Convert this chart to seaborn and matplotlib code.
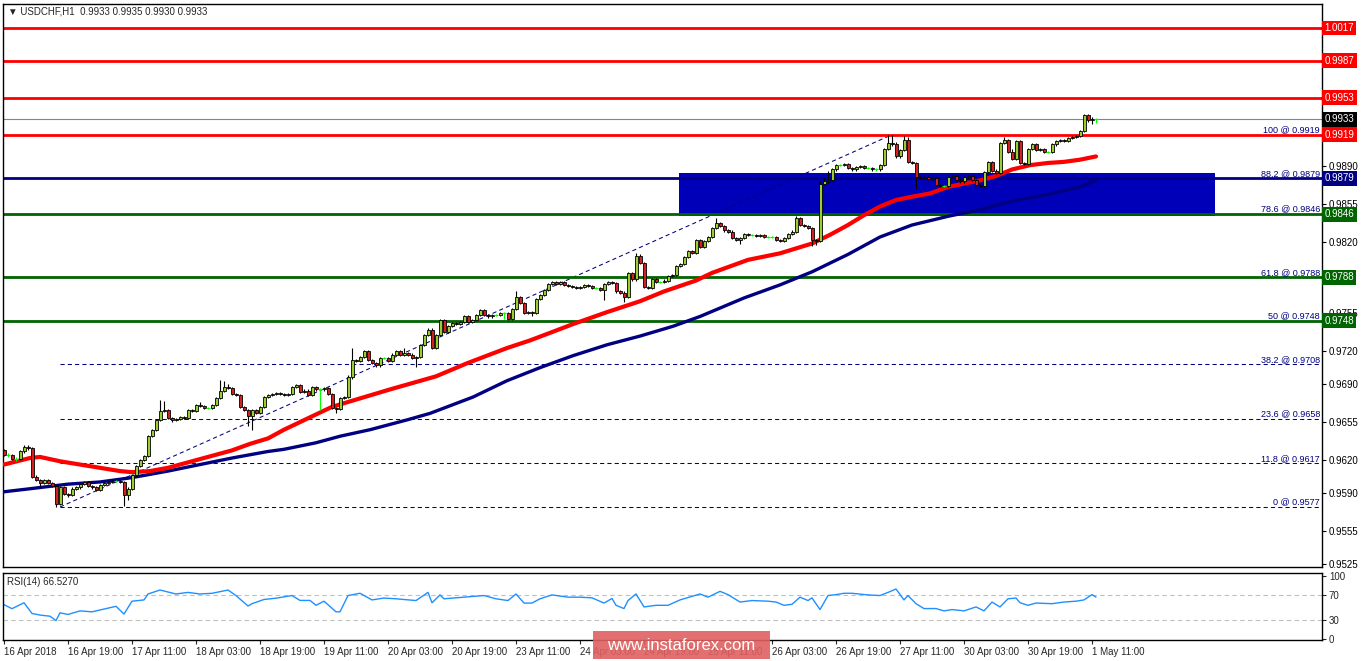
import matplotlib
matplotlib.use('Agg')
import matplotlib.pyplot as plt
from matplotlib.patches import Rectangle
import seaborn as sns
import numpy as np
import pandas as pd

# hourly closes, one row per 16 bars (one x-axis label step)
first_open = 0.9629
closes = [
    0.9625, 0.9625, 0.9621, 0.9621, 0.9628, 0.9632, 0.9631, 0.9605, 0.9602, 0.9599, 0.9602, 0.9599, 0.9596, 0.9580, 0.9595, 0.9589,
    0.9588, 0.9594, 0.9595, 0.9598, 0.9600, 0.9596, 0.9595, 0.9593, 0.9597, 0.9599, 0.9600, 0.9601, 0.9601, 0.9600, 0.9588, 0.9594,
    0.9606, 0.9615, 0.9620, 0.9624, 0.9642, 0.9648, 0.9657, 0.9665, 0.9666, 0.9659, 0.9657, 0.9658, 0.9660, 0.9659, 0.9666, 0.9665,
    0.9671, 0.9670, 0.9668, 0.9668, 0.9671, 0.9677, 0.9684, 0.9687, 0.9686, 0.9681, 0.9680, 0.9669, 0.9666, 0.9661, 0.9666, 0.9663,
    0.9669, 0.9678, 0.9680, 0.9681, 0.9682, 0.9681, 0.9680, 0.9681, 0.9687, 0.9689, 0.9683, 0.9684, 0.9680, 0.9687, 0.9685, 0.9685,
    0.9686, 0.9681, 0.9668, 0.9667, 0.9677, 0.9678, 0.9696, 0.9712, 0.9711, 0.9715, 0.9720, 0.9712, 0.9709, 0.9707, 0.9714, 0.9714,
    0.9711, 0.9717, 0.9720, 0.9717, 0.9718, 0.9717, 0.9714, 0.9715, 0.9726, 0.9735, 0.9740, 0.9723, 0.9735, 0.9749, 0.9738, 0.9743,
    0.9746, 0.9745, 0.9747, 0.9752, 0.9747, 0.9749, 0.9753, 0.9758, 0.9753, 0.9752, 0.9753, 0.9753, 0.9755, 0.9755, 0.9750, 0.9759,
    0.9770, 0.9764, 0.9755, 0.9756, 0.9755, 0.9768, 0.9772, 0.9776, 0.9782, 0.9784, 0.9782, 0.9784, 0.9781, 0.9780, 0.9779, 0.9778,
    0.9779, 0.9781, 0.9780, 0.9778, 0.9778, 0.9776, 0.9782, 0.9784, 0.9783, 0.9775, 0.9774, 0.9770, 0.9792, 0.9786, 0.9808, 0.9801,
    0.9779, 0.9778, 0.9786, 0.9784, 0.9784, 0.9785, 0.9789, 0.9790, 0.9798, 0.9800, 0.9807, 0.9812, 0.9810, 0.9822, 0.9816, 0.9821,
    0.9825, 0.9833, 0.9838, 0.9835, 0.9831, 0.9830, 0.9824, 0.9822, 0.9824, 0.9828, 0.9827, 0.9827, 0.9826, 0.9827, 0.9825, 0.9825,
    0.9825, 0.9822, 0.9821, 0.9824, 0.9828, 0.9830, 0.9842, 0.9836, 0.9835, 0.9833, 0.9822, 0.9821, 0.9874, 0.9876, 0.9877, 0.9887,
    0.9891, 0.9891, 0.9892, 0.9888, 0.9887, 0.9889, 0.9890, 0.9888, 0.9888, 0.9887, 0.9887, 0.9891, 0.9906, 0.9911, 0.9910, 0.9899,
    0.9905, 0.9914, 0.9894, 0.9893, 0.9880, 0.9879, 0.9880, 0.9878, 0.9879, 0.9873, 0.9872, 0.9872, 0.9880, 0.9881, 0.9877, 0.9876,
    0.9880, 0.9881, 0.9877, 0.9873, 0.9872, 0.9885, 0.9894, 0.9886, 0.9884, 0.9911, 0.9914, 0.9903, 0.9897, 0.9913, 0.9893, 0.9892,
    0.9906, 0.9910, 0.9905, 0.9906, 0.9903, 0.9903, 0.9910, 0.9913, 0.9914, 0.9913, 0.9916, 0.9917, 0.9918, 0.9922, 0.9937, 0.9932,
    0.9933, 0.9933,
]
# wick sizes in pips above max(open, close) and below min(open, close)
wick_up = [
    1, 2, 1, 2, 1, 2, 2, 1, 1, 1, 1, 1, 1, 1, 1, 1,
    1, 1, 1, 1, 1, 1, 1, 1, 1, 1, 1, 1, 1, 1, 1, 1,
    1, 1, 1, 1, 1, 1, 1, 10, 8, 1, 1, 1, 1, 1, 1, 1,
    1, 2, 1, 1, 1, 1, 10, 6, 3, 1, 1, 1, 1, 1, 1, 1,
    1, 1, 1, 1, 1, 1, 1, 1, 1, 1, 1, 1, 1, 1, 1, 1,
    1, 1, 1, 1, 1, 1, 2, 11, 1, 1, 1, 1, 1, 1, 1, 1,
    1, 1, 1, 1, 5, 1, 1, 1, 1, 1, 1, 1, 1, 1, 1, 1,
    1, 1, 1, 1, 1, 1, 1, 1, 1, 1, 1, 1, 1, 1, 1, 1,
    5, 1, 1, 1, 1, 1, 1, 1, 1, 1, 1, 1, 1, 1, 1, 1,
    1, 1, 1, 1, 1, 1, 1, 1, 1, 1, 1, 1, 1, 1, 2, 1,
    1, 1, 1, 1, 1, 1, 1, 1, 1, 1, 1, 1, 1, 1, 1, 1,
    1, 1, 4, 1, 1, 1, 1, 1, 1, 1, 1, 1, 1, 1, 1, 1,
    1, 1, 1, 1, 1, 1, 2, 1, 1, 1, 1, 1, 2, 3, 9, 1,
    1, 1, 1, 1, 1, 1, 1, 1, 1, 1, 1, 1, 1, 8, 8, 2,
    1, 4, 3, 1, 1, 1, 1, 1, 1, 1, 1, 1, 1, 1, 1, 1,
    1, 1, 1, 1, 1, 1, 1, 1, 1, 1, 3, 1, 3, 1, 1, 1,
    1, 1, 1, 1, 1, 1, 1, 1, 1, 1, 1, 1, 1, 1, 1, 1,
    2, 1,
]
wick_dn = [
    1, 2, 1, 2, 1, 1, 2, 1, 1, 4, 1, 1, 1, 3, 1, 1,
    2, 1, 1, 1, 1, 1, 1, 1, 1, 1, 1, 1, 1, 1, 10, 5,
    1, 1, 1, 1, 1, 1, 1, 1, 1, 1, 2, 1, 1, 1, 1, 1,
    1, 1, 1, 1, 1, 1, 1, 1, 1, 1, 1, 1, 1, 10, 13, 1,
    1, 1, 1, 1, 1, 1, 1, 1, 1, 1, 1, 1, 1, 1, 1, 19,
    1, 1, 1, 4, 1, 1, 1, 1, 1, 1, 1, 1, 1, 1, 1, 1,
    1, 1, 1, 1, 1, 1, 1, 8, 1, 1, 1, 1, 1, 1, 1, 1,
    1, 1, 1, 1, 1, 1, 1, 1, 1, 1, 1, 1, 1, 5, 1, 1,
    1, 1, 1, 1, 3, 1, 1, 1, 1, 1, 1, 1, 1, 1, 1, 1,
    1, 1, 1, 1, 1, 1, 9, 1, 1, 1, 1, 5, 1, 1, 1, 1,
    1, 1, 1, 1, 1, 1, 1, 1, 1, 1, 1, 1, 1, 1, 1, 1,
    1, 1, 1, 1, 1, 1, 1, 1, 3, 1, 1, 1, 1, 1, 1, 1,
    1, 1, 1, 1, 1, 1, 1, 1, 1, 1, 5, 3, 1, 1, 1, 1,
    1, 1, 1, 1, 1, 1, 1, 1, 1, 1, 1, 1, 1, 1, 1, 1,
    1, 1, 1, 1, 11, 1, 1, 1, 1, 1, 1, 1, 1, 1, 1, 1,
    1, 1, 1, 1, 1, 1, 1, 1, 1, 1, 1, 1, 1, 1, 1, 1,
    1, 1, 1, 1, 1, 1, 1, 1, 1, 1, 1, 1, 1, 1, 1, 1,
    3, 3,
]

# moving averages (bar index, price)
ma_fast_idx = [0, 6.5, 9, 14, 19, 24, 29, 32, 36.5, 41, 45, 49, 53, 57, 61.5, 66, 70, 74, 78, 82, 86.5, 96.5, 108,
               115.75, 125.75, 131.5, 137.25, 142.25, 150.75, 159, 165, 173, 177, 186, 194, 202, 206.5, 211, 215, 219,
               223, 227, 231.5, 236, 240, 244, 248, 252, 256.5, 261, 265, 269, 273]
ma_fast_val = [0.9616, 0.9622, 0.9623, 0.9619, 0.9616, 0.9613, 0.9610, 0.9609, 0.9610, 0.9613, 0.9617, 0.9621, 0.9625,
               0.9629, 0.9635, 0.9640, 0.9648, 0.9655, 0.9662, 0.9669, 0.9674, 0.9685, 0.9697, 0.9709, 0.9723, 0.9730,
               0.9738, 0.9745, 0.9756, 0.9766, 0.9775, 0.9785, 0.9792, 0.9804, 0.9810, 0.9819, 0.9827, 0.9836, 0.9845,
               0.9853, 0.9859, 0.9862, 0.9865, 0.9871, 0.9874, 0.9877, 0.9881, 0.9887, 0.9891, 0.9893, 0.9894, 0.9896,
               0.9899]
ma_slow_idx = [0, 7, 16, 24, 32, 36.5, 41, 45, 49, 53, 57, 61.5, 66, 70, 74, 78, 84, 91.5, 100.75, 106.5, 117.25,
               125.75, 134, 142.25, 150.75, 159, 167.25, 174, 185, 194, 202, 211, 219, 227, 236, 244, 252, 261, 269,
               273]
ma_slow_val = [0.9591, 0.9594, 0.9598, 0.9600, 0.9604, 0.9607, 0.9610, 0.9613, 0.9616, 0.9619, 0.9622, 0.9625, 0.9628,
               0.9630, 0.9633, 0.9636, 0.9642, 0.9648, 0.9657, 0.9663, 0.9678, 0.9693, 0.9705, 0.9716, 0.9726, 0.9734,
               0.9743, 0.9752, 0.9769, 0.9781, 0.9793, 0.9809, 0.9825, 0.9836, 0.9844, 0.9850, 0.9858, 0.9864, 0.9871,
               0.9877]

# RSI(14)
rsi_idx = [0, 2, 5, 7, 9, 11.5, 13, 14, 16, 19, 22, 28, 30, 32, 35, 36, 39, 43, 46, 49, 52, 56, 58, 61, 62, 65, 68,
           72, 74, 76.5, 78, 80, 83, 84, 86, 89, 92, 95, 98, 103, 106, 107, 109, 110, 115, 120, 123, 126,
           128, 130, 132, 134, 137, 141, 144, 147, 150, 152, 153, 155, 156, 158, 160, 163, 166, 169, 174, 176, 179,
           181, 184, 187, 191, 193, 195, 197, 199, 201, 202, 204, 206, 208, 210, 212, 216, 219, 221, 223, 225, 226,
           228, 230, 233, 235, 237, 240, 243, 245, 247, 249, 251, 253, 254, 256, 258, 262, 265, 268, 270, 272, 273]
rsi_val = [54.4, 48, 57.5, 40.4, 37.8, 36, 29, 41.4, 38.8, 44.5, 43, 51.8, 39.4, 60, 62, 71.5, 77.8, 71.5, 74, 71.5,
           72.6, 77.8, 69, 52.3, 56, 62.7, 64.8, 69, 61.2, 61.2, 53.4, 60, 43, 43, 69, 72.6, 62, 65,
           63.8, 61, 74, 57.5, 70, 63.8, 66.4, 69, 63.8, 61, 71.5, 57, 57, 63.8, 70, 66.4, 66.4, 65.3, 57, 64.3,
           53.4, 48.2, 61, 71.5, 50.8, 53.4, 53.4, 62, 71.5, 66.4, 75.7, 70.5, 58.6, 61, 60, 58.6, 53.4, 55, 66.4,
           61, 65.3, 46.6, 69, 70.5, 72.6, 72.6, 70, 69, 74, 79.4, 62, 69, 56, 48.2, 48.2, 44.5, 46.6, 44.5, 50.8,
           44.5, 58.6, 50.8, 63.8, 65, 57.5, 53.4, 57, 56, 58.6, 60, 62, 70.5, 66.5]

tick_idx = list(range(0, 273, 16))
tick_labels = ['16 Apr 2018', '16 Apr 19:00', '17 Apr 11:00', '18 Apr 03:00', '18 Apr 19:00', '19 Apr 11:00',
               '20 Apr 03:00', '20 Apr 19:00', '23 Apr 11:00', '24 Apr 03:00', '24 Apr 19:00', '25 Apr 11:00',
               '26 Apr 03:00', '26 Apr 19:00', '27 Apr 11:00', '30 Apr 03:00', '30 Apr 19:00', '1 May 11:00']

fib_levels = [0.9919, 0.9879, 0.9846, 0.9788, 0.9748, 0.9708, 0.9658, 0.9617, 0.9577]
fib_pcts = ['100', '88.2', '78.6', '61.8', '50', '38.2', '23.6', '11.8', '0']
red_levels = [1.0017, 0.9987, 0.9953, 0.9919]
navy_levels = [0.9879]
green_levels = [0.9846, 0.9788, 0.9748]
last_price = 0.9933
price_ticks = [0.9890, 0.9855, 0.9820, 0.9755, 0.9720, 0.9690, 0.9655, 0.9620, 0.9590, 0.9555, 0.9525]

# ---------------------------------------------------------------------------
df = pd.DataFrame({'close': closes})
df['open'] = [first_open] + closes[:-1]
df['high'] = df[['open', 'close']].max(axis=1) + np.array(wick_up) * 0.0001
df['low'] = df[['open', 'close']].min(axis=1) - np.array(wick_dn) * 0.0001
df['i'] = np.arange(len(df))

sns.set_style('white')
plt.rcParams['font.family'] = ['Liberation Sans', 'DejaVu Sans']

W, H = 1362, 661
fig = plt.figure(figsize=(W / 100, H / 100), dpi=100)


def px_axes(x0, y0, x1, y1):
    return fig.add_axes([x0 / W, 1 - y1 / H, (x1 - x0) / W, (y1 - y0) / H])


ax = px_axes(3, 4, 1322, 567)
ax_rsi = px_axes(3, 573, 1322, 640)
XMIN, XMAX = -0.25, 329.5
NAVY, RED, GREEN = '#000080', '#ff0000', '#006400'

# rectangle zone
ax.add_patch(Rectangle((168.75, 0.98443), 134, 0.98838 - 0.98443, facecolor='#0000b8', edgecolor='none', zorder=0.5))

# fibonacci dotted levels + labels
ax.hlines(fib_levels, 14, XMAX, colors=NAVY, linestyles=(0, (4, 3)), lw=0.75, zorder=1)
for lv, pc in zip(fib_levels, fib_pcts):
    ax.text(329, lv + 0.00004, f'{pc} @ {lv:.4f}', ha='right', va='bottom', color=NAVY, fontsize=6.5, zorder=6)
ax.plot([14, 222], [0.9577, 0.9919], color=NAVY, ls=(0, (4, 3)), lw=0.75, zorder=1)

# solid support / resistance lines
for lv in red_levels:
    ax.axhline(lv, color=RED, lw=2.0, zorder=1.5)
for lv in navy_levels:
    ax.axhline(lv, color=NAVY, lw=2.0, zorder=1.5)
for lv in green_levels:
    ax.axhline(lv, color=GREEN, lw=2.0, zorder=1.5)
ax.axhline(last_price, color='#778899', lw=0.8, zorder=1.5)

# moving averages
sns.lineplot(x=ma_slow_idx, y=ma_slow_val, ax=ax, color=NAVY, lw=2.4, zorder=3)
sns.lineplot(x=ma_fast_idx, y=ma_fast_val, ax=ax, color=RED, lw=3.0, zorder=3.1)

# candles
doji = df[df['open'] == df['close']]
bull = df[df['close'] > df['open']]
bear = df[df['close'] < df['open']]
body = df[df['open'] != df['close']]
ax.vlines(body['i'], body['low'], body['high'], color='black', lw=0.8, zorder=4)
ax.bar(bull['i'], bull['close'] - bull['open'], bottom=bull['open'], width=0.75,
       color='#9acd32', edgecolor='black', lw=0.6, zorder=5)
ax.bar(bear['i'], bear['open'] - bear['close'], bottom=bear['close'], width=0.75,
       color='#d42020', edgecolor='black', lw=0.6, zorder=5)
ax.vlines(doji['i'], doji['low'], doji['high'], color='#00ff00', lw=0.8, zorder=5)
ax.hlines(doji['close'], doji['i'] - 0.4, doji['i'] + 0.4, color='#00ff00', lw=0.8, zorder=5)

ax.set_xlim(XMIN, XMAX)
ax.set_ylim(0.95219, 1.00390)
ax.set_xticks([])
ax.yaxis.tick_right()
ax.set_yticks(price_ticks)
ax.set_yticklabels([f'{t:.4f}' for t in price_ticks])
ax.tick_params(axis='y', right=True, direction='out', length=3, width=0.8, pad=2, labelsize=7, colors='black')
ax.set_xlabel('')
ax.set_ylabel('')
for s in ax.spines.values():
    s.set_color('black')
    s.set_linewidth(1)

# coloured price boxes on the right
ytr = ax.get_yaxis_transform()
boxes = [(lv, RED) for lv in red_levels] + [(lv, NAVY) for lv in navy_levels] + \
        [(lv, GREEN) for lv in green_levels] + [(last_price, 'black')]
for lv, col in boxes:
    ax.text(1.0018, lv, f'{lv:.4f}', transform=ytr, ha='left', va='center', color='white', fontsize=7,
            bbox=dict(boxstyle='square,pad=0.25', facecolor=col, edgecolor='none'), clip_on=False, zorder=10)

# RSI panel
ax_rsi.axhline(70, color='#c0c0c0', lw=0.8, ls=(0, (4, 3)))
ax_rsi.axhline(30, color='#c0c0c0', lw=0.8, ls=(0, (4, 3)))
sns.lineplot(x=rsi_idx, y=rsi_val, ax=ax_rsi, color='#1e90ff', lw=1.0)
ax_rsi.set_xlim(XMIN, XMAX)
ax_rsi.set_ylim(-2, 105)
ax_rsi.yaxis.tick_right()
ax_rsi.set_yticks([0, 30, 70, 100])
ax_rsi.tick_params(axis='y', right=True, direction='out', length=3, width=0.8, pad=2, labelsize=7)
ax_rsi.set_xticks(tick_idx)
ax_rsi.set_xticklabels(tick_labels, ha='left')
ax_rsi.tick_params(axis='x', bottom=True, direction='out', length=3, width=0.8, pad=2, labelsize=7)
ax_rsi.set_xlabel('')
ax_rsi.set_ylabel('')
for s in ax_rsi.spines.values():
    s.set_color('black')
    s.set_linewidth(1)
ax_rsi.text(0.003, 0.86, 'RSI(14) 66.5270', transform=ax_rsi.transAxes, fontsize=7, va='center', ha='left')

# header
fig.text(8 / W, 1 - 12 / H, '\u25bc USDCHF,H1  0.9933 0.9935 0.9930 0.9933', fontsize=7, va='center', ha='left')

# watermark
fig.patches.append(Rectangle((593 / W, 1 - 659 / H), 177 / W, 28 / H, transform=fig.transFigure,
                             facecolor='#e06060', alpha=0.9, edgecolor='none', zorder=20))
fig.text(681 / W, 1 - 645 / H, 'www.instaforex.com', ha='center', va='center', color='white',
         fontsize=12, zorder=21)

fig.savefig('out.png', dpi=100, facecolor='white')
